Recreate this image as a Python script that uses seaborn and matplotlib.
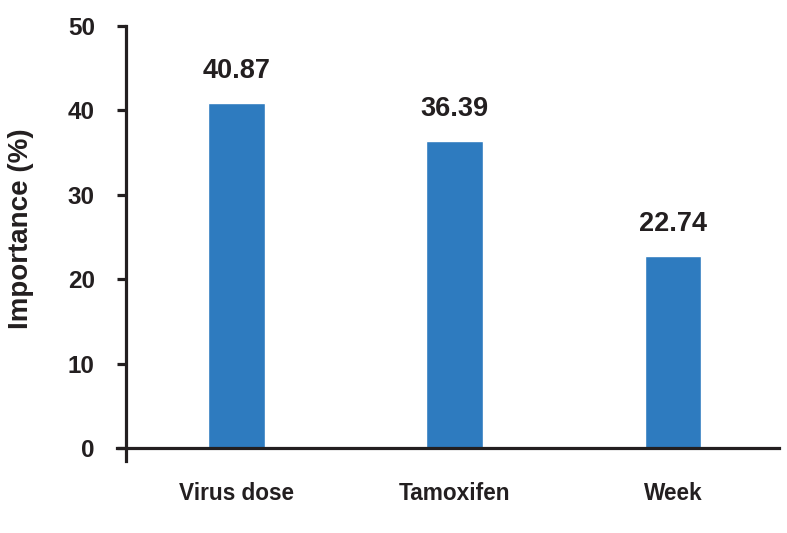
import numpy as np
import pandas as pd
import matplotlib
matplotlib.use("Agg")
import matplotlib.pyplot as plt
import seaborn as sns

# data
features = ["Virus dose", "Tamoxifen", "Week"]
importance = [40.87, 36.39, 22.74]

sns.set_style("white")
plt.rcParams["font.family"] = ["Liberation Sans", "DejaVu Sans"]
plt.rcParams["font.weight"] = "bold"

df = pd.DataFrame({"feature": features, "importance": importance})

fig = plt.figure(figsize=(7.87, 5.33), dpi=100)
ax = fig.add_axes([0.1487, 0.1351, 0.8411, 0.8161])
sns.barplot(data=df, x="feature", y="importance", color="#2e7bbf",
            width=0.26, saturation=1, ax=ax)

# value labels
for i, v in enumerate(importance):
    ax.annotate(f"{v:.2f}", (i, v), xytext=(0, 14), textcoords="offset points",
                ha="center", va="bottom", fontsize=19.5, fontweight="bold",
                color="#231f20")

ax.set_xlim(-0.548, 2.486)
ax.set_ylim(-1.5, 50)
ax.set_yticks([0, 10, 20, 30, 40, 50])
ax.set_xlabel("")
ax.set_ylabel("Importance (%)", fontsize=20, fontweight="bold", color="#231f20")
ax.yaxis.set_label_coords(-0.126, 0.535)

for s in ["top", "right"]:
    ax.spines[s].set_visible(False)
ax.spines["bottom"].set_position(("data", 0))
ax.spines["left"].set_position(("axes", 0.0136))
for s in ["bottom", "left"]:
    ax.spines[s].set_linewidth(2.3)
    ax.spines[s].set_color("#231f20")

ax.tick_params(axis="y", length=6.5, width=2.3, color="#231f20", labelsize=17.5,
               pad=16, labelcolor="#231f20", left=True)
ax.tick_params(axis="x", length=0, labelsize=16.3, pad=24, labelcolor="#231f20")
for lab in ax.get_xticklabels() + ax.get_yticklabels():
    lab.set_fontweight("bold")

fig.savefig("out.png", dpi=100)
